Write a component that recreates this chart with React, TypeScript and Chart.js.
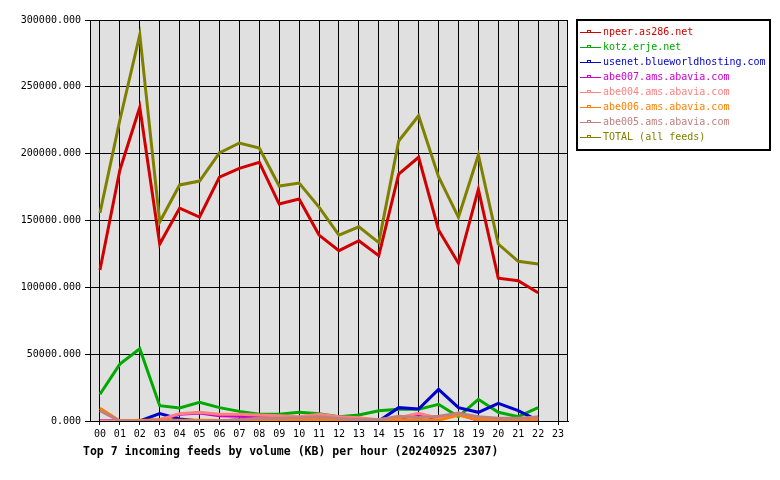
import React, { useEffect, useRef } from 'react';
import { Chart, registerables } from 'chart.js';

Chart.register(...registerables);

const hours = ['00','01','02','03','04','05','06','07','08','09','10','11','12','13','14','15','16','17','18','19','20','21','22','23'];

const yTicks = [0, 50000, 100000, 150000, 200000, 250000, 300000];

const seriesNames = [
  'npeer.as286.net',
  'kotz.erje.net',
  'usenet.blueworldhosting.com',
  'abe007.ams.abavia.com',
  'abe004.ams.abavia.com',
  'abe006.ams.abavia.com',
  'abe005.ams.abavia.com',
  'TOTAL (all feeds)',
];

const seriesColors = ['#d00000', '#00aa00', '#0000cc', '#cc00cc', '#ff8080', '#ff8000', '#c08080', '#808000'];

const npeer = [113000,187800,234700,132400,159300,152600,182500,189000,193500,162300,166100,139100,127400,134900,123700,184800,197300,142900,118000,173300,106800,105000,96000];
const kotz = [20000,42600,54000,11500,9700,14000,10000,7200,5000,5000,6500,5500,3200,4500,7700,8700,8700,12500,3200,16200,6500,3200,10000];
const usenet = [0,0,0,5500,1500,0,0,800,300,500,200,800,600,600,0,10000,9000,23700,10000,6500,13200,7700,300];
const abe007 = [0,0,0,1000,5000,6000,4000,3500,2500,2500,2000,4000,3000,1500,500,1500,5000,1000,5000,500,500,500,2000];
const abe004 = [0,0,0,1000,5500,6500,5000,5000,4500,4000,3200,5000,3200,2500,1000,2500,5700,2000,6000,1000,1000,1000,3000];
const abe006 = [9500,0,500,500,500,500,300,500,1000,800,500,1000,1000,800,500,1000,500,500,4500,1000,1000,500,1000];
const abe005 = [7700,0,0,0,0,0,0,1000,2000,2000,2500,3200,1800,1000,1000,3500,2500,3500,5700,3200,2000,2000,3000];
const total = [155600,225200,289000,148900,176600,179500,200500,208000,204200,175800,178000,160000,139100,145300,133500,209500,228400,182800,152400,199000,132400,119500,117400];

const seriesValues = [npeer, kotz, usenet, abe007, abe004, abe006, abe005, total];

const titleText = 'Top 7 incoming feeds by volume (KB) per hour (20240925 2307)';

const MONO = '"DejaVu Sans Mono", "Liberation Mono", monospace';

export default function App() {
  const ref = useRef<HTMLCanvasElement>(null);

  useEffect(() => {
    if (!ref.current) return;

    const bgPlugin = {
      id: 'plotBg',
      beforeDraw(chart: any) {
        const { ctx, chartArea: a } = chart;
        ctx.save();
        ctx.fillStyle = '#ffffff';
        ctx.fillRect(0, 0, chart.width, chart.height);
        ctx.fillStyle = '#e0e0e0';
        ctx.fillRect(a.left, a.top, a.right - a.left, a.bottom - a.top);
        ctx.restore();
      },
    };

    const extrasPlugin = {
      id: 'extras',
      afterDraw(chart: any) {
        const { ctx, chartArea: a } = chart;
        ctx.save();
        // plot frame
        ctx.strokeStyle = '#000000';
        ctx.lineWidth = 1;
        ctx.strokeRect(a.left + 0.5, a.top + 0.5, a.right - a.left - 1, a.bottom - a.top);

        // legend box
        const lx = 577, ly = 20, lw = 193, lh = 130;
        ctx.fillStyle = '#ffffff';
        ctx.fillRect(lx, ly, lw, lh);
        ctx.lineWidth = 2;
        ctx.strokeRect(lx, ly, lw, lh);
        ctx.font = '10px ' + MONO;
        ctx.textBaseline = 'middle';
        ctx.textAlign = 'left';
        chart.data.datasets.forEach((ds: any, i: number) => {
          const y = Math.round(ly + 12 + i * 15) + 0.5;
          ctx.strokeStyle = ds.borderColor;
          ctx.lineWidth = 1;
          ctx.beginPath();
          ctx.moveTo(lx + 3, y);
          ctx.lineTo(lx + 24, y);
          ctx.stroke();
          ctx.strokeRect(lx + 10.5, y - 2, 3, 2);
          ctx.fillStyle = ds.borderColor;
          ctx.fillText(ds.label, lx + 26, y);
        });

        // bottom title
        ctx.fillStyle = '#000000';
        ctx.font = 'bold 11.5px ' + MONO;
        ctx.textBaseline = 'middle';
        ctx.fillText(titleText, 83, 452);
        ctx.restore();
      },
    };

    const chart = new Chart(ref.current, {
      type: 'line',
      data: {
        labels: hours,
        datasets: seriesNames.map((name, i) => ({
          label: name,
          data: seriesValues[i],
          borderColor: seriesColors[i],
          backgroundColor: seriesColors[i],
          borderWidth: 3,
          pointRadius: 0,
          tension: 0,
          fill: false,
          order: seriesNames.length - i,
          borderJoinStyle: 'miter' as const,
        })),
      },
      options: {
        responsive: false,
        animation: false,
        devicePixelRatio: 1,
        layout: { padding: { top: 20, right: 212, left: 0, bottom: 0 } },
        plugins: {
          legend: { display: false },
          title: { display: false },
          tooltip: { enabled: false },
        },
        scales: {
          x: {
            type: 'category',
            offset: true,
            afterFit(scale: any) { scale.height = 59; },
            grid: {
              offset: false,
              color: '#000000',
              lineWidth: 1,
              drawTicks: true,
              tickLength: 4,
            },
            border: { color: '#000000' },
            ticks: {
              color: '#000000',
              font: { family: MONO, size: 10 },
              padding: 3,
              maxRotation: 0,
              autoSkip: false,
            },
          },
          y: {
            min: 0,
            max: 300000,
            afterFit(scale: any) { scale.width = 90; },
            afterBuildTicks(scale: any) { scale.ticks = yTicks.map((v) => ({ value: v })); },
            grid: {
              color: '#000000',
              lineWidth: 1,
              drawTicks: true,
              tickLength: 5,
            },
            border: { color: '#000000' },
            ticks: {
              color: '#000000',
              font: { family: MONO, size: 10 },
              padding: 4,
              callback: (v: any) => Number(v).toFixed(3),
            },
          },
        },
      },
      plugins: [bgPlugin, extrasPlugin],
    });

    return () => chart.destroy();
  }, []);

  return (
    <div style={{ position: 'fixed', left: 0, top: 0, width: 780, height: 480, background: '#ffffff' }}>
      <canvas ref={ref} width={780} height={480} style={{ display: 'block', width: 780, height: 480 }} />
    </div>
  );
}
